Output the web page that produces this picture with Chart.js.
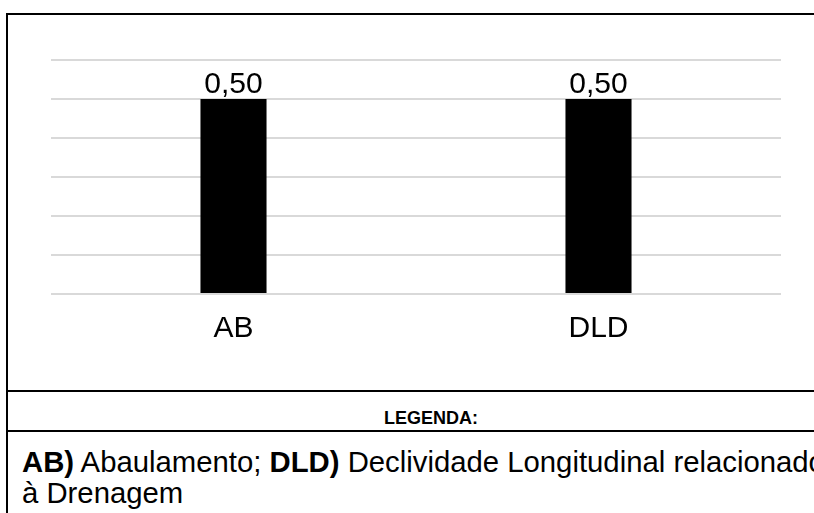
<!DOCTYPE html>
<html>
<head>
<meta charset="utf-8">
<script src="https://cdn.jsdelivr.net/npm/chart.js@4/dist/chart.umd.min.js"></script>
<style>
    body {
        margin: 0;
        width: 814px;
        height: 513px;
        overflow: hidden;
        background: #fff;
        font-family: "Liberation Sans", Arial, sans-serif;
        color: #000;
    }
    .quadro {
        position: absolute;
        left: 6px;
        top: 13px;
        width: 846px;
        border: 2px solid #000;
    }
    .grafico {
        height: 375px;
        position: relative;
    }
    .titulo {
        border-top: 2px solid #000;
        border-bottom: 2px solid #000;
        box-sizing: border-box;
        height: 42px;
        padding-top: 17px;
        line-height: 18px;
        font-size: 18px;
        font-weight: bold;
        text-align: center;
    }
    .texto {
        padding: 14px 0 20px 14px;
        font-size: 29.3px;
        line-height: 31px;
        white-space: nowrap;
    }
</style>
</head>
<body>
<div class="quadro">
    <div class="grafico"><canvas id="chartIndices" width="806" height="375"></canvas></div>
    <div class="titulo">LEGENDA:</div>
    <div class="texto"><b>AB)</b> Abaulamento; <b>DLD)</b> Declividade Longitudinal relacionado<br>à Drenagem</div>
</div>
<script>
// Indices
const categorias = ["AB", "DLD"];
const valores = [0.50, 0.50];
const escala = [0, 0.6, 0.1]; // min, max, passo

const fonte = "'Liberation Sans', Arial, sans-serif";

// value above each bar, written with a decimal comma
const rotulosValor = {
    id: "rotulosValor",
    afterDatasetsDraw(chart) {
        const ctx = chart.ctx;
        const meta = chart.getDatasetMeta(0);
        ctx.save();
        ctx.font = "30px " + fonte;
        ctx.fillStyle = "#000";
        ctx.textAlign = "center";
        ctx.textBaseline = "alphabetic";
        meta.data.forEach((bar, i) => {
            const txt = valores[i].toFixed(2).replace(".", ",");
            ctx.fillText(txt, bar.x, bar.y - 6);
        });
        ctx.restore();
    },
};

const config = {
    type: "bar",
    data: {
        labels: categorias,
        datasets: [
            {
                data: valores,
                backgroundColor: "#000",
                categoryPercentage: 1,
                barPercentage: 0.181,
            },
        ],
    },
    options: {
        responsive: false,
        animation: false,
        devicePixelRatio: 1,
        layout: {
            padding: { left: 43, right: 33, top: 45, bottom: 26 },
        },
        plugins: {
            legend: { display: false },
            tooltip: { enabled: false },
        },
        scales: {
            x: {
                grid: { display: false, drawTicks: false },
                border: { display: false },
                ticks: {
                    color: "#000",
                    padding: 17,
                    font: { family: fonte, size: 30 },
                },
            },
            y: {
                min: escala[0],
                max: escala[1],
                grid: { color: "#d9d9d9", lineWidth: 2, drawTicks: false },
                border: { display: false },
                ticks: { display: false, stepSize: escala[2] },
            },
        },
    },
    plugins: [rotulosValor],
};

let ctx = document.getElementById("chartIndices");
let barChart = new Chart(ctx, config);
</script>
</body>
</html>
